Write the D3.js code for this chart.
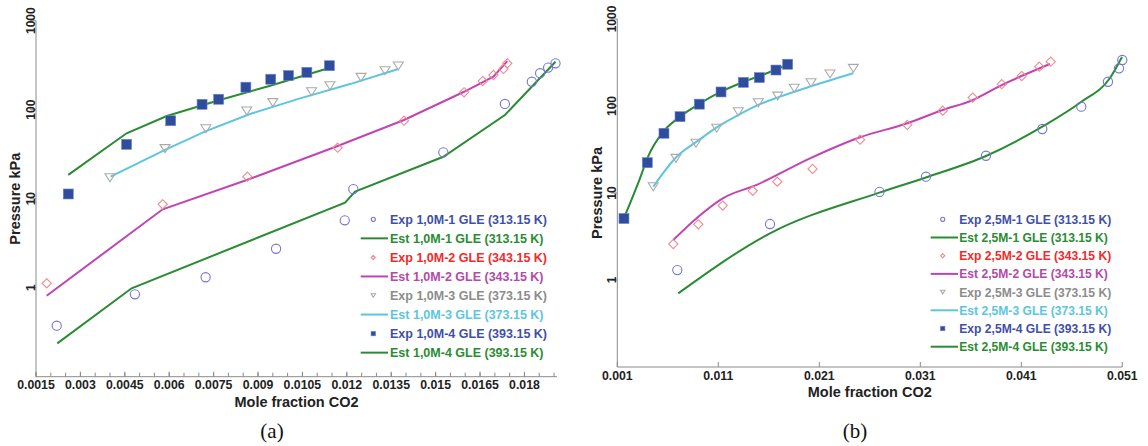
<!DOCTYPE html>
<html>
<head>
<meta charset="utf-8">
<script src="https://cdn.jsdelivr.net/npm/d3@7"></script>
<style>
  body { margin: 0; background: #fff; }
  svg { display: block; }
</style>
</head>
<body>
<svg id="chart" width="1148" height="446"></svg>
<script>
// data: [mole fraction CO2, pressure kPa]
// panel (a) 1,0M
const a_exp1 = [[0.00220,0.374],[0.00484,0.843],[0.00723,1.31],[0.00961,2.74],[0.01193,5.72],[0.01222,12.8],[0.01526,33.2],[0.01734,116],[0.01825,206],[0.01853,257],[0.01880,297],[0.01905,332]];
const a_est1 = [[0.00222,0.237],[0.00473,0.985],[0.01194,9.02],[0.01228,12.0],[0.01526,29.6],[0.01734,87.2],[0.01905,346]];
const a_exp2 = [[0.00186,1.12],[0.00578,8.65],[0.00864,17.7],[0.01169,37.4],[0.01393,75.2],[0.01596,157],[0.01659,210],[0.01695,245],[0.01729,287],[0.01742,332]];
const a_est2 = [[0.00186,0.813],[0.00578,7.6],[0.00862,16.2],[0.01169,39.1],[0.01393,76.6],[0.01596,159],[0.01695,235],[0.01742,352]];
const a_exp3 = [[0.00400,17.2],[0.00586,36.5],[0.00724,61.2],[0.00862,96.7],[0.00950,120],[0.01081,159],[0.01143,186],[0.01248,231],[0.01329,274],[0.01374,310]];
const a_est3 = [[0.00402,17.7],[0.00586,35.3],[0.00724,57.5],[0.00873,89.4],[0.01042,134],[0.01211,194],[0.01374,287]];
const a_exp4 = [[0.00259,11.3],[0.00456,40.8],[0.00605,75.2],[0.00711,115],[0.00767,131],[0.00859,179],[0.00943,220],[0.01003,242],[0.01065,263],[0.01141,312]];
const a_est4 = [[0.00259,18.5],[0.00456,54.3],[0.00592,84.9],[0.00765,127],[0.00941,186],[0.01143,296]];

// panel (b) 2,5M
const b_exp1 = [[0.00694,1.30],[0.01612,4.40],[0.02696,10.3],[0.03156,15.4],[0.03750,26.8],[0.04308,54.4],[0.04694,98.2],[0.04958,190],[0.05067,271],[0.05100,338]];
const b_est1 = [[0.00704,0.703],[0.01612,3.44],[0.02694,10.1],[0.03156,15.1],[0.03750,26.6],[0.04308,57.8],[0.04691,111],[0.04978,210],[0.05097,366]];
const b_exp2 = [[0.00654,2.59],[0.00902,4.37],[0.01144,7.18],[0.01441,10.6],[0.01684,13.5],[0.02033,18.9],[0.02503,41.0],[0.02971,60.5],[0.03322,88.4],[0.03619,125],[0.03906,178],[0.04104,221],[0.04278,283],[0.04391,323]];
const b_est2 = [[0.00654,2.88],[0.00902,5.34],[0.01144,8.69],[0.01480,12.4],[0.02008,25.0],[0.02503,43.7],[0.02971,63.3],[0.03322,89.9],[0.03619,117],[0.03906,174],[0.04384,304]];
const b_exp3 = [[0.00456,11.8],[0.00681,25.0],[0.00879,37.3],[0.01084,55.4],[0.01298,86.0],[0.01496,109],[0.01688,130],[0.01852,160],[0.02018,185],[0.02206,233],[0.02437,271]];
const b_est3 = [[0.00456,11.8],[0.00688,26.1],[0.00886,38.9],[0.01084,56.9],[0.01298,78.8],[0.01496,103],[0.01711,128],[0.02008,167],[0.02437,238]];
const b_exp4 = [[0.00166,5.09],[0.00397,22.3],[0.00562,48.6],[0.00721,75.4],[0.00912,105],[0.01127,145],[0.01348,187],[0.01506,212],[0.01671,259],[0.01787,302]];
const b_est4 = [[0.00166,5.16],[0.00318,14.1],[0.00407,26.6],[0.00555,50.7],[0.00721,75.4],[0.00919,107],[0.01127,146],[0.01348,189],[0.01562,233],[0.01777,296]];

// ticks and labels
const a_xTicks = [0.0015,0.003,0.0045,0.006,0.0075,0.009,0.0105,0.012,0.0135,0.015,0.0165,0.018];
const a_xTickLabels = ["0.0015","0.003","0.0045","0.006","0.0075","0.009","0.0105","0.012","0.0135","0.015","0.0165","0.018"];
const b_xTicks = [0.001,0.011,0.021,0.031,0.041,0.051];
const b_xTickLabels = ["0.001","0.011","0.021","0.031","0.041","0.051"];
const yTicks = [1,10,100,1000];
const yTickLabels = ["1","10","100","1000"];

const a_legend = ["Exp 1,0M-1 GLE (313.15 K)","Est 1,0M-1 GLE (313.15 K)","Exp 1,0M-2 GLE (343.15 K)","Est 1,0M-2 GLE (343.15 K)","Exp 1,0M-3 GLE (373.15 K)","Est 1,0M-3 GLE (373.15 K)","Exp 1,0M-4 GLE (393.15 K)","Est 1,0M-4 GLE (393.15 K)"];
const b_legend = ["Exp 2,5M-1 GLE (313.15 K)","Est 2,5M-1 GLE (313.15 K)","Exp 2,5M-2 GLE (343.15 K)","Est 2,5M-2 GLE (343.15 K)","Exp 2,5M-3 GLE (373.15 K)","Est 2,5M-3 GLE (373.15 K)","Exp 2,5M-4 GLE (393.15 K)","Est 2,5M-4 GLE (393.15 K)"];

// styling per legend row
const rowStyle = [
  {kind: "circle", mark: "#7575d6", text: "#3f4fa8"},
  {kind: "line", mark: "#2a8c32", text: "#2a8c32"},
  {kind: "diamond", mark: "#f28a8a", text: "#f22a2a"},
  {kind: "line", mark: "#c244b4", text: "#b24aaa"},
  {kind: "triangle", mark: "#aaaaaa", text: "#8c8c8c"},
  {kind: "line", mark: "#5cc6e0", text: "#5cc6e0"},
  {kind: "square", mark: "#2f4d9e", text: "#3f4fa8"},
  {kind: "line", mark: "#2a8c32", text: "#2a8c32"}
];

const svg = d3.select("#chart");
const font = "'Liberation Sans', Arial, sans-serif";

function drawMarker(g, kind, x, y, s, color) {
  if (kind == "circle") {
    g.append("circle").attr("cx", x).attr("cy", y).attr("r", 4.6 * s)
      .attr("fill", "none").attr("stroke", color).attr("stroke-width", 1.1);
  } else if (kind == "diamond") {
    let r = 4.6 * s;
    g.append("path").attr("d", `M${x},${y - r}L${x + r},${y}L${x},${y + r}L${x - r},${y}Z`)
      .attr("fill", "none").attr("stroke", color).attr("stroke-width", 1.1);
  } else if (kind == "triangle") {
    let w = 5 * s, h = 4 * s;
    g.append("path").attr("d", `M${x - w},${y - h}L${x + w},${y - h}L${x},${y + h}Z`)
      .attr("fill", "none").attr("stroke", color).attr("stroke-width", 1.1);
  } else if (kind == "square") {
    let r = 5 * s;
    g.append("rect").attr("x", x - r).attr("y", y - r).attr("width", 2 * r).attr("height", 2 * r)
      .attr("fill", color).attr("stroke", "#6f86c4").attr("stroke-width", 0.6);
  }
}

function drawPanel(p) {
  const x = d3.scaleLinear().domain(p.xDomain).range(p.xRange);
  const y = d3.scaleLog().domain([0.1, 1000]).range(p.yRange);
  const g = svg.append("g");

  // axes
  const axisColor = "#8a8a8a";
  g.append("line").attr("x1", p.xRange[0]).attr("x2", p.xRange[0])
    .attr("y1", p.yRange[0]).attr("y2", p.yRange[1]).attr("stroke", axisColor);
  g.append("line").attr("x1", p.xRange[0]).attr("x2", p.xRange[1])
    .attr("y1", p.yRange[0]).attr("y2", p.yRange[0]).attr("stroke", axisColor);

  // y ticks + rotated labels
  yTicks.forEach((t, i) => {
    g.append("line").attr("x1", p.xRange[0] - 6).attr("x2", p.xRange[0])
      .attr("y1", y(t)).attr("y2", y(t)).attr("stroke", axisColor);
    g.append("text").attr("transform", `translate(${p.xRange[0] - 1},${y(t)}) rotate(-90)`)
      .attr("text-anchor", "middle").attr("font-family", font).attr("font-weight", "bold")
      .attr("font-size", 12).attr("fill", "#222").text(yTickLabels[i]);
  });

  // x minor ticks
  if (p.minor) {
    d3.range(p.xDomain[0], p.xDomain[1] + 1e-9, p.minor).forEach(t => {
      g.append("line").attr("x1", x(t)).attr("x2", x(t))
        .attr("y1", p.yRange[0]).attr("y2", p.yRange[0] - 4).attr("stroke", axisColor);
    });
  }
  p.xTicks.forEach((t, i) => {
    g.append("line").attr("x1", x(t)).attr("x2", x(t))
      .attr("y1", p.yRange[0]).attr("y2", p.yRange[0] - 5).attr("stroke", axisColor);
    g.append("text").attr("x", x(t)).attr("y", p.yRange[0] + 12.5)
      .attr("text-anchor", "middle").attr("font-family", font).attr("font-weight", "bold")
      .attr("font-size", 12.3).attr("fill", "#222").text(p.xLabels[i]);
  });

  // axis titles
  g.append("text").attr("x", (p.xRange[0] + p.xRange[1]) / 2).attr("y", p.yRange[0] + 30)
    .attr("text-anchor", "middle").attr("font-family", font).attr("font-weight", "bold")
    .attr("font-size", 14.5).attr("fill", "#222").text("Mole fraction CO2");
  g.append("text").attr("transform", `translate(${p.yTitleX},${(p.yRange[0] + p.yRange[1]) / 2}) rotate(-90)`)
    .attr("text-anchor", "middle").attr("font-family", font).attr("font-weight", "bold")
    .attr("font-size", 14.5).attr("fill", "#222").text("Pressure kPa");

  // lines
  const line = d3.line().x(d => x(d[0])).y(d => y(d[1])).curve(p.curve);
  p.series.forEach((s, i) => {
    if (rowStyle[i].kind == "line") {
      g.append("path").attr("d", line(s)).attr("fill", "none")
        .attr("stroke", rowStyle[i].mark).attr("stroke-width", 2);
    }
  });
  // markers
  p.series.forEach((s, i) => {
    if (rowStyle[i].kind != "line") {
      s.forEach(d => drawMarker(g, rowStyle[i].kind, x(d[0]), y(d[1]), 1, rowStyle[i].mark));
    }
  });

  // legend
  p.legend.forEach((label, i) => {
    const cy = p.legTop + i * p.legStep;
    const st = rowStyle[i];
    if (st.kind == "line") {
      g.append("line").attr("x1", p.legLine[0]).attr("x2", p.legLine[1])
        .attr("y1", cy).attr("y2", cy).attr("stroke", st.mark).attr("stroke-width", 2);
    } else {
      drawMarker(g, st.kind, p.legMark, cy, 0.45, st.mark);
    }
    g.append("text").attr("x", p.legText).attr("y", cy + 4.5)
      .attr("font-family", font).attr("font-weight", "bold").attr("font-size", p.legSize)
      .attr("fill", st.text).text(label);
  });

  // panel letter
  g.append("text").attr("x", p.letterX).attr("y", 438).attr("text-anchor", "middle")
    .attr("font-family", "'Liberation Serif', 'Times New Roman', serif").attr("font-size", 21)
    .attr("fill", "#111").text(p.letter);
}

drawPanel({
  xDomain: [0.0015, 0.0191], xRange: [36, 557], yRange: [376.7, 20.7],
  xTicks: a_xTicks, xLabels: a_xTickLabels, minor: 0.0005, yTitleX: 20,
  series: [a_exp1, a_est1, a_exp2, a_est2, a_exp3, a_est3, a_exp4, a_est4],
  curve: d3.curveLinear,
  legend: a_legend, legTop: 219.3, legStep: 19.05, legLine: [360.7, 388], legMark: 373.3,
  legText: 390, legSize: 12.5, letter: "(a)", letterX: 272
});

drawPanel({
  xDomain: [0.001, 0.051], xRange: [617.3, 1122.3], yRange: [367, 19],
  xTicks: b_xTicks, xLabels: b_xTickLabels, minor: null, yTitleX: 602,
  series: [b_exp1, b_est1, b_exp2, b_est2, b_exp3, b_est3, b_exp4, b_est4],
  curve: d3.curveMonotoneX,
  legend: b_legend, legTop: 219.3, legStep: 18.2, legLine: [930.7, 958], legMark: 942.7,
  legText: 959.3, legSize: 12.1, letter: "(b)", letterX: 855
});
</script>
</body>
</html>
